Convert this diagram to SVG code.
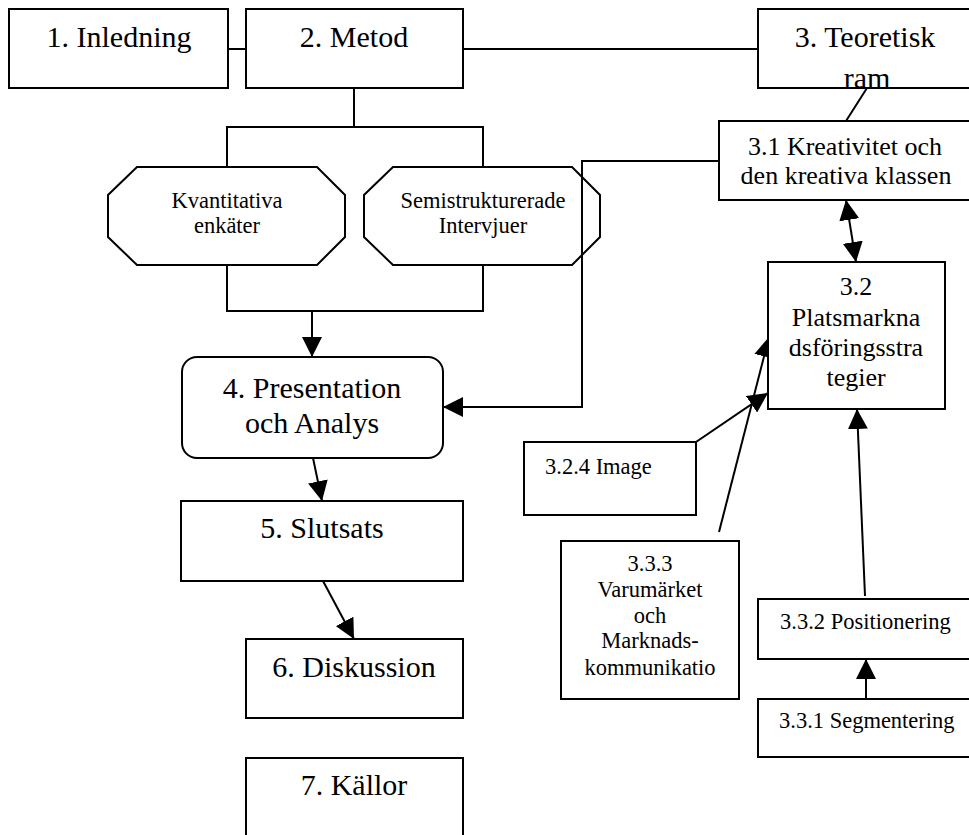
<svg xmlns="http://www.w3.org/2000/svg" width="969" height="835" viewBox="0 0 969 835" font-family="'Liberation Serif', 'Tinos', 'DejaVu Serif', serif">
<style>
.b{fill:#fff;stroke:#000;stroke-width:2}
.c{fill:none;stroke:#000;stroke-width:2}
text{font-family:'Liberation Serif','Tinos','DejaVu Serif',serif;fill:#000;text-anchor:middle}
.t30{font-size:30px}
.t26{font-size:26px}
.t22{font-size:22.5px}
.s{text-anchor:start}
</style>
<defs>
<marker id="ah" viewBox="0 0 20 20" refX="20" refY="10" markerWidth="20" markerHeight="20" markerUnits="userSpaceOnUse" orient="auto-start-reverse">
<path d="M0,0 L20,10 L0,20 z" fill="#000"/>
</marker>
<clipPath id="clip3"><rect x="758" y="9" width="230" height="79"/></clipPath>
</defs>
<g id="connectors">
<line class="c" x1="228" y1="49" x2="246" y2="49"/>
<line class="c" x1="463" y1="49" x2="758" y2="49"/>
<polyline class="c" points="354,88 354,127"/>
<polyline class="c" points="227,167 227,127 483,127 483,167"/>
<polyline class="c" points="227,265 227,311 483,311 483,265"/>
<line class="c" x1="312" y1="311" x2="312" y2="357" marker-end="url(#ah)"/>
<polyline class="c" points="719,161 582,161 582,407 443,407" marker-end="url(#ah)"/>
<line class="c" x1="867" y1="88" x2="846" y2="121"/>
<line class="c" x1="846" y1="200" x2="856" y2="262" marker-start="url(#ah)" marker-end="url(#ah)"/>
<line class="c" x1="696" y1="442" x2="768" y2="393" marker-end="url(#ah)"/>
<line class="c" x1="719" y1="532" x2="769" y2="337" marker-end="url(#ah)"/>
<line class="c" x1="865" y1="596" x2="857" y2="409" marker-end="url(#ah)"/>
<line class="c" x1="866" y1="699" x2="866" y2="659" marker-end="url(#ah)"/>
<line class="c" x1="313" y1="458" x2="322" y2="501" marker-end="url(#ah)"/>
<line class="c" x1="323" y1="581" x2="354" y2="639" marker-end="url(#ah)"/>
</g>
<g id="n1"><rect class="b" x="9" y="9" width="219" height="79"/><text class="t30" x="119" y="47">1. Inledning</text></g>
<g id="n2"><rect class="b" x="246" y="9" width="217" height="79"/><text class="t30" x="354" y="47">2. Metod</text></g>
<g id="n3"><rect x="758" y="9" width="230" height="79" fill="#fff"/><g clip-path="url(#clip3)"><text class="t30" x="865" y="47">3. Teoretisk</text><text class="t30" x="867" y="88">ram</text></g><rect x="758" y="9" width="230" height="79" fill="none" stroke="#000" stroke-width="2"/></g>
<g id="n31"><rect class="b" x="719" y="121" width="270" height="79"/><text class="t26" x="845" y="155">3.1 Kreativitet och</text><text class="t26" x="846" y="184">den kreativa klassen</text></g>
<g id="nK"><polygon class="b" points="137,167 317,167 345,195 345,237 317,265 137,265 108,237 108,195"/><text class="t22" x="227" y="208">Kvantitativa</text><text class="t22" x="227" y="233">enkäter</text></g>
<g id="nS"><polygon class="b" points="393,167 572,167 600,195 600,237 572,265 393,265 364,237 364,195"/><text class="t22" x="483" y="208">Semistrukturerade</text><text class="t22" x="483" y="233">Intervjuer</text></g>
<line class="c" x1="582" y1="161" x2="582" y2="407"/>
<g id="n32"><rect class="b" x="768" y="262" width="177" height="147"/><text class="t26" x="856" y="295">3.2</text><text class="t26" x="856" y="326">Platsmarkna</text><text class="t26" x="856" y="356">dsföringsstra</text><text class="t26" x="856" y="386">tegier</text></g>
<g id="n4"><rect class="b" x="182" y="357" width="261" height="101" rx="15"/><text class="t30" x="312" y="398">4. Presentation</text><text class="t30" x="312" y="433">och Analys</text></g>
<g id="n324"><rect class="b" x="524" y="442" width="172" height="73"/><text class="t22 s" x="545" y="474">3.2.4 Image</text></g>
<g id="n5"><rect class="b" x="181" y="501" width="282" height="80"/><text class="t30" x="322" y="538">5. Slutsats</text></g>
<g id="n333"><rect class="b" x="561" y="541" width="178" height="158"/><text class="t22" x="650" y="571">3.3.3</text><text class="t22" x="650" y="597">Varumärket</text><text class="t22" x="650" y="623">och</text><text class="t22" x="650" y="648">Marknads-</text><text class="t22" x="650" y="675">kommunikatio</text></g>
<g id="n332"><rect class="b" x="758" y="599" width="230" height="60"/><text class="t22 s" x="780" y="629">3.3.2 Positionering</text></g>
<g id="n331"><rect class="b" x="758" y="699" width="230" height="58"/><text class="t22 s" x="779" y="728">3.3.1 Segmentering</text></g>
<g id="n6"><rect class="b" x="246" y="639" width="217" height="79"/><text class="t30" x="354" y="677">6. Diskussion</text></g>
<g id="n7"><rect class="b" x="246" y="758" width="217" height="100"/><text class="t30" x="354" y="795">7. Källor</text></g>
</svg>
